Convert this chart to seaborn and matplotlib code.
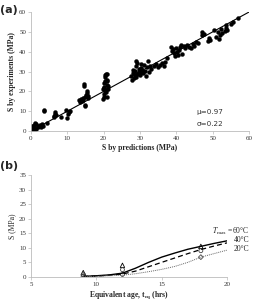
import numpy as np
import pandas as pd
import matplotlib
matplotlib.use('Agg')
import matplotlib.pyplot as plt
import seaborn as sns

# (a) predicted vs experimental strength (MPa)
pred_x = [0.1, 0.2, 0.3, 0.4, 0.5, 0.6, 0.2, 0.8, 1.0, 0.3, 0.7, 1.2, 1.5, 1.8, 2.0, 2.5, 2.8, 3.0, 3.2, 0.9, 1.3,
          3.5, 3.6, 4.3,
          6.3, 6.5, 6.6, 6.8, 6.4, 8.2, 9.6, 10.0, 10.2, 10.5, 10.8,
          13.2, 13.5, 13.8, 14.0, 14.2, 14.5, 14.6, 14.8, 14.9, 15.0, 15.2, 15.3, 15.5, 15.6, 15.8, 14.4,
          19.8, 20.0, 20.0, 20.1, 20.2, 20.3, 20.4, 20.5, 20.6, 20.7, 20.8, 20.9, 21.0, 21.1, 21.2, 20.2, 20.4, 21.0, 20.6, 19.9, 20.8,
          27.5, 27.8, 28.0, 28.2, 28.4, 28.6, 28.8, 29.0, 29.2, 29.4, 29.6, 29.8, 30.0, 30.2, 30.4, 30.6, 30.8, 31.0,
          31.3, 31.6, 31.9, 32.2, 32.5, 32.8, 33.0, 28.5, 29.0, 30.5,
          34.0, 34.5, 35.0, 35.5, 36.0, 36.5, 37.0, 37.5,
          38.5, 38.8, 39.0, 39.3, 39.6, 39.9, 40.2, 40.5, 40.8, 41.2, 41.5, 42.0, 41.0,
          42.5, 43.0, 43.5, 44.0, 44.5, 45.0, 45.5, 46.0,
          47.0, 47.2, 47.5, 48.8, 49.0, 49.2, 50.5, 50.8, 51.5, 51.8, 52.0, 52.2, 52.5, 53.5, 53.6, 53.8, 54.0,
          55.0, 55.5, 57.0]
exp_y = [0.2, 0.5, 1.0, 1.5, 0.3, 2.0, 2.5, 0.8, 1.2, 0.0, 3.0, 4.0, 3.5, 2.0, 2.8, 3.0, 1.8, 3.5, 2.5, 0.4, 1.0,
         10.0, 10.8, 4.2,
         7.5, 8.5, 9.5, 8.0, 7.0, 7.0, 10.5, 6.5, 8.5, 9.8, 10.2,
         15.5, 14.8, 16.0, 15.2, 15.8, 23.5, 22.5, 13.0, 12.5, 17.0, 18.0, 20.0, 19.0, 17.5, 16.5, 16.8,
         16.0, 17.0, 21.5, 22.0, 24.0, 25.0, 27.5, 28.5, 20.5, 19.5, 23.0, 26.0, 28.8, 21.0, 22.5, 18.5, 20.0, 25.0, 29.0, 21.0, 17.0,
         28.0, 26.0, 29.5, 31.0, 27.0, 30.5, 33.0, 35.5, 34.5, 29.0, 31.5, 30.0, 28.5, 32.0, 34.0, 31.0, 29.5, 33.5,
         30.5, 28.0, 32.5, 35.5, 30.0, 33.0, 31.5, 28.5, 27.5, 30.0,
         33.0, 34.0, 32.5, 33.5, 34.5, 33.0, 35.0, 37.0,
         42.5, 40.5, 41.5, 39.5, 38.0, 42.0, 40.0, 38.5, 41.0, 43.5, 39.0, 43.0, 42.2,
         42.0, 43.5, 42.5, 42.0, 44.0, 43.0, 45.0, 44.5,
         48.5, 50.0, 49.0, 45.5, 47.0, 46.0, 51.0, 47.5, 50.0, 46.5, 48.5, 51.5, 49.5, 50.5, 52.0, 53.5, 51.0,
         54.0, 55.0, 57.0]
fit_x = [0, 60]

# (b) strength vs equivalent age
age = [9, 10, 11, 12, 13, 14, 15, 16, 17, 18, 19, 20]
s_60 = [0.2, 0.4, 0.7, 1.3, 3.0, 5.0, 6.8, 8.2, 9.5, 10.5, 11.5, 12.4]
s_40 = [0.2, 0.3, 0.6, 1.0, 2.0, 3.5, 5.0, 6.5, 8.0, 9.4, 10.6, 11.7]
s_20 = [0.1, 0.2, 0.4, 0.6, 1.1, 1.8, 2.6, 3.6, 5.0, 6.8, 8.0, 9.2]
test_age = [9, 12, 18]
test_60 = [1.5, 4.0, 10.5]
test_40 = [0.8, 2.5, 9.0]
test_20 = [0.3, 0.8, 6.8]

sns.set_style('white')
plt.rcParams['font.family'] = ['Liberation Serif', 'DejaVu Serif']
plt.rcParams['mathtext.fontset'] = 'stix'

fig = plt.figure(figsize=(2.57, 3.02), dpi=100)
ax1 = fig.add_axes([0.1206, 0.566, 0.848, 0.394])
ax2 = fig.add_axes([0.1206, 0.083, 0.7626, 0.3375])

spine_col = '#bbbbbb'
for ax in (ax1, ax2):
    sns.despine(ax=ax)
    for s in ('left', 'bottom'):
        ax.spines[s].set_color(spine_col)
        ax.spines[s].set_linewidth(0.6)
    ax.tick_params(labelsize=5, length=2, width=0.5, color=spine_col, pad=1.5,
                   bottom=True, left=True, labelcolor='#333333')

# panel (a)
df_a = pd.DataFrame({'pred': pred_x, 'exp': exp_y})
sns.lineplot(x=fit_x, y=fit_x, ax=ax1, color='black', linewidth=0.8)
sns.scatterplot(data=df_a, x='pred', y='exp', ax=ax1, color='black', s=8,
                edgecolor='black', linewidth=0.3)
ax1.set_xlim(0, 60)
ax1.set_ylim(0, 60)
ax1.set_xticks(range(0, 61, 10))
ax1.set_yticks(range(0, 61, 10))
ax1.set_xlabel('S by predictions (MPa)', fontsize=5.5, fontweight='bold', labelpad=2)
ax1.set_ylabel('S by experiments (MPa)', fontsize=5.5, fontweight='bold', labelpad=2)
ax1.text(45.6, 9.8, '\u03bc=0.97', fontsize=5.2, family='DejaVu Sans', va='center', color='#333333')
ax1.text(45.6, 3.8, '\u03c3=0.22', fontsize=5.2, family='DejaVu Sans', va='center', color='#333333')

# panel (b)
df_b = pd.DataFrame({'age': age * 3,
                     'S': s_60 + s_40 + s_20,
                     'T': ['60'] * len(age) + ['40'] * len(age) + ['20'] * len(age)})
styles = {'60': ('-', 1.0, 'black'), '40': ((0, (4, 2.5)), 0.9, 'black'), '20': ((0, (1, 1)), 0.7, '#666666')}
for t, (ls, lw, c) in styles.items():
    sns.lineplot(data=df_b[df_b['T'] == t], x='age', y='S', ax=ax2, color=c,
                 linestyle=ls, linewidth=lw)
sns.scatterplot(x=test_age, y=test_60, ax=ax2, marker='^', s=10, facecolor='none',
                edgecolor='black', linewidth=0.6)
sns.scatterplot(x=test_age, y=test_40, ax=ax2, marker='o', s=8, facecolor='none',
                edgecolor='#444444', linewidth=0.6)
sns.scatterplot(x=test_age, y=test_20, ax=ax2, marker='D', s=6, facecolor='none',
                edgecolor='#444444', linewidth=0.6)
ax2.set_xlim(5, 20)
ax2.set_ylim(0, 35)
ax2.set_xticks([5, 10, 15, 20])
ax2.set_yticks(range(0, 36, 5))
ax2.set_xlabel(r'Equivalent age, t$_{\mathbf{eq}}$ (hrs)', fontsize=5.5, fontweight='bold', labelpad=2)
ax2.set_ylabel('S (MPa)', fontsize=5.5, labelpad=2)
ax2.text(21.7, 15.8, r'$T_{\mathrm{max}}$ =60°C', fontsize=5.5, ha='right', va='center', clip_on=False)
ax2.text(21.7, 12.7, '40°C', fontsize=5.5, ha='right', va='center', clip_on=False)
ax2.text(21.7, 9.6, '20°C', fontsize=5.5, ha='right', va='center', clip_on=False)

fig.text(0.0, 0.985, '(a)', fontsize=8, fontweight='bold', family='DejaVu Sans', va='top')
fig.text(0.0, 0.468, '(b)', fontsize=8, fontweight='bold', family='DejaVu Sans', va='top')

fig.savefig('out.png', dpi=100)
